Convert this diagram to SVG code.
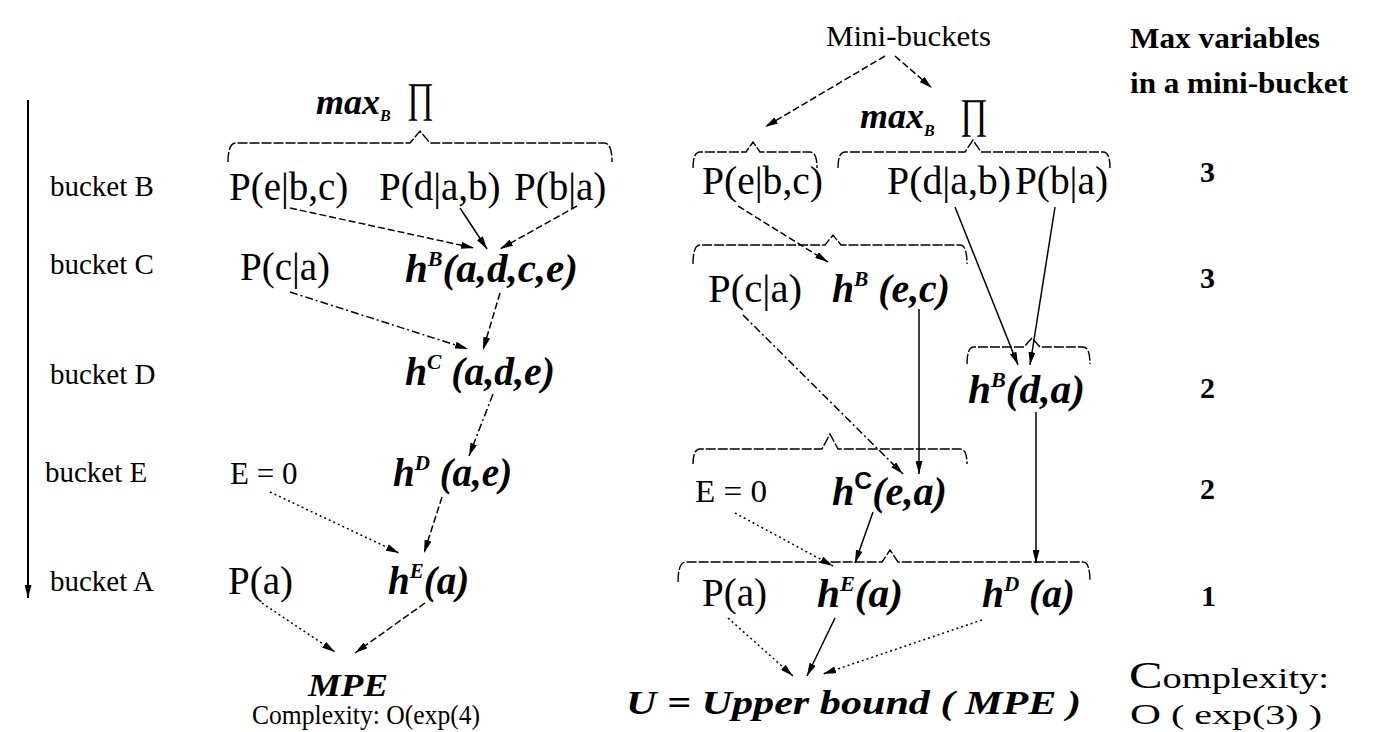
<svg xmlns="http://www.w3.org/2000/svg" width="1381" height="732" viewBox="0 0 1381 732">
<style>
text{font-family:"Liberation Serif","Times New Roman",serif;fill:#000}
.lbl{font-size:29px}
.p{font-size:39px}
.h{font-size:39px;font-weight:bold;font-style:italic}
.bi{font-weight:bold;font-style:italic}
.num{font-size:30px;font-weight:bold}
.hd{font-size:29px;font-weight:bold}
.c{stroke:#000;stroke-width:1.5;fill:none;marker-end:url(#ah)}
.dash{stroke-dasharray:7 3}
.dot{stroke-dasharray:2 3}
.dd{stroke-dasharray:8 3 2 3}
.br{stroke:#000;stroke-width:1.4;fill:none;stroke-dasharray:10 2}
</style>
<defs>
<marker id="ah" markerUnits="userSpaceOnUse" markerWidth="13" markerHeight="7" refX="13" refY="3.5" orient="auto">
<path d="M0,0 L13,3.5 L0,7 z" fill="#000"/>
</marker>
</defs>
<rect width="1381" height="732" fill="#fff"/>

<g id="order-arrow">
<line x1="28" y1="100" x2="28" y2="598" stroke="#000" stroke-width="2" marker-end="url(#ah)"/>
</g>

<g id="bucket-labels">
<text class="lbl" x="50" y="196">bucket B</text>
<text class="lbl" x="50" y="274">bucket C</text>
<text class="lbl" x="50" y="384">bucket D</text>
<text class="lbl" x="45" y="482">bucket  E</text>
<text class="lbl" x="50" y="591">bucket A</text>
</g>

<g id="left-maxB">
<text class="bi" x="316" y="114" font-size="36">max<tspan font-size="16" dy="7">B</tspan></text>
<text x="407" y="112" font-size="42" textLength="27" lengthAdjust="spacingAndGlyphs">∏</text>
<path class="br" d="M228,162 Q228,143 236,143 L410,143 L420,131 L430,143 L604,143 Q612,143 612,162"/>
</g>

<g id="L-PebC"><text class="p" x="229" y="200">P(e|b,c)</text></g>
<g id="L-PdAB"><text class="p" x="379" y="200">P(d|a,b)</text></g>
<g id="L-PbA"><text class="p" x="514" y="200">P(b|a)</text></g>
<g id="L-PcA"><text class="p" x="240" y="280">P(c|a)</text></g>
<g id="L-hB"><text class="h" x="405" y="282" textLength="173" lengthAdjust="spacingAndGlyphs">h<tspan font-size="21" dy="-16">B</tspan><tspan dy="16">(a,d,c,e)</tspan></text></g>
<g id="L-hC"><text class="h" x="405" y="385" textLength="150" lengthAdjust="spacingAndGlyphs">h<tspan font-size="21" dy="-16">C</tspan><tspan dy="16"> (a,d,e)</tspan></text></g>
<g id="L-E0"><text font-size="31" x="230" y="484">E = 0</text></g>
<g id="L-hD"><text class="h" x="393" y="486">h<tspan font-size="21" dy="-16">D</tspan><tspan dy="16"> (a,e)</tspan></text></g>
<g id="L-Pa"><text class="p" x="228" y="594">P(a)</text></g>
<g id="L-hE"><text class="h" x="388" y="594">h<tspan font-size="21" dy="-16">E</tspan><tspan dy="16">(a)</tspan></text></g>
<g id="L-MPE"><text class="bi" x="308" y="696" font-size="32" textLength="80" lengthAdjust="spacingAndGlyphs">MPE</text></g>
<g id="L-complexity"><text font-size="27" x="252" y="724" textLength="228" lengthAdjust="spacingAndGlyphs">Complexity: O(exp(4)</text></g>

<g id="R-minibuckets"><text font-size="30" x="826" y="46" textLength="165" lengthAdjust="spacingAndGlyphs">Mini-buckets</text></g>
<g id="R-maxvars">
<text class="hd" x="1130" y="48" textLength="190" lengthAdjust="spacingAndGlyphs">Max variables</text>
<text class="hd" x="1130" y="93" textLength="218" lengthAdjust="spacingAndGlyphs">in a mini-bucket</text>
</g>
<g id="R-maxB">
<text class="bi" x="860" y="128" font-size="36">max<tspan font-size="16" dy="8">B</tspan></text>
<text x="960" y="128" font-size="42" textLength="28" lengthAdjust="spacingAndGlyphs">∏</text>
</g>
<g id="R-braces">
<path class="br" d="M693,168 Q693,152 700,152 L746,152 L753,142 L760,152 L810,152 Q817,152 817,168"/>
<path class="br" d="M838,168 Q838,152 845,152 L965,152 L973,140 L981,152 L1103,152 Q1110,152 1110,168"/>
<path class="br" d="M693,264 Q693,245 700,245 L825,245 L833,235 L841,245 L960,245 Q967,245 967,264"/>
<path class="br" d="M967,364 Q967,347 974,347 L1024,347 L1032,338 L1040,347 L1083,347 Q1090,347 1090,364"/>
<path class="br" d="M693,464 Q693,449 700,449 L822,449 L830,434 L838,449 L960,449 Q967,449 967,464"/>
<path class="br" d="M678,582 Q678,562 686,562 L882,562 L890,550 L898,562 L1083,562 Q1090,562 1090,582"/>
</g>
<g id="R-PebC"><text class="p" x="702" y="194" textLength="121" lengthAdjust="spacingAndGlyphs">P(e|b,c)</text></g>
<g id="R-PdAB"><text class="p" x="887" y="194" textLength="124" lengthAdjust="spacingAndGlyphs">P(d|a,b)</text></g>
<g id="R-PbA"><text class="p" x="1015" y="194" textLength="93" lengthAdjust="spacingAndGlyphs">P(b|a)</text></g>
<g id="R-PcA"><text class="p" x="708" y="302" textLength="94" lengthAdjust="spacingAndGlyphs">P(c|a)</text></g>
<g id="R-hBec"><text class="h" x="832" y="302" textLength="118" lengthAdjust="spacingAndGlyphs">h<tspan font-size="21" dy="-16">B</tspan><tspan dy="16"> (e,c)</tspan></text></g>
<g id="R-hBda"><text class="h" x="968" y="403" textLength="117" lengthAdjust="spacingAndGlyphs">h<tspan font-size="21" dy="-16">B</tspan><tspan dy="16">(d,a)</tspan></text></g>
<g id="R-E0"><text font-size="31" x="695" y="502" textLength="72" lengthAdjust="spacingAndGlyphs">E = 0</text></g>
<g id="R-hCea"><text class="h" x="832" y="505" textLength="115" lengthAdjust="spacingAndGlyphs">h<tspan font-size="24" dy="-16" font-style="normal" font-family="Liberation Sans,sans-serif">C</tspan><tspan dy="16">(e,a)</tspan></text></g>
<g id="R-Pa"><text class="p" x="702" y="606">P(a)</text></g>
<g id="R-hEa"><text class="h" x="817" y="607" textLength="86" lengthAdjust="spacingAndGlyphs">h<tspan font-size="21" dy="-16">E</tspan><tspan dy="16">(a)</tspan></text></g>
<g id="R-hDa"><text class="h" x="982" y="607" textLength="93" lengthAdjust="spacingAndGlyphs">h<tspan font-size="21" dy="-16">D</tspan><tspan dy="16"> (a)</tspan></text></g>
<g id="R-U"><text class="bi" font-size="33" x="626" y="714" textLength="455" lengthAdjust="spacingAndGlyphs">U = Upper bound ( MPE )</text></g>
<g id="R-counts">
<text class="num" x="1200" y="182">3</text>
<text class="num" x="1200" y="288">3</text>
<text class="num" x="1200" y="398">2</text>
<text class="num" x="1200" y="499">2</text>
<text class="num" x="1201" y="606">1</text>
</g>
<g id="R-complexity">
<text font-size="38" x="1129" y="688" textLength="200" lengthAdjust="spacingAndGlyphs">C<tspan font-size="29">omplexity:</tspan></text>
<text font-size="30" x="1130" y="724" textLength="192" lengthAdjust="spacingAndGlyphs">O<tspan font-size="28"> ( exp(3) )</tspan></text>
</g>

<g id="connectors">
<line class="c dash" x1="290" y1="208" x2="474" y2="248"/>
<line class="c" x1="460" y1="208" x2="487" y2="249"/>
<line class="c dash" x1="577" y1="206" x2="500" y2="249"/>
<line class="c dd" x1="290" y1="292" x2="468" y2="349"/>
<line class="c dash" x1="500" y1="293" x2="483" y2="350"/>
<line class="c dd" x1="493" y1="394" x2="469" y2="456"/>
<line class="c dot" x1="270" y1="492" x2="399" y2="553"/>
<line class="c dash" x1="442" y1="497" x2="424" y2="553"/>
<line class="c dot" x1="262" y1="603" x2="335" y2="652"/>
<line class="c dash" x1="425" y1="603" x2="355" y2="653"/>

<line class="c dash" x1="885" y1="56" x2="765" y2="127"/>
<line class="c dash" x1="895" y1="56" x2="932" y2="88"/>
<line class="c dash" x1="738" y1="206" x2="828" y2="262"/>
<line class="c" x1="955" y1="207" x2="1018" y2="365"/>
<line class="c" x1="1055" y1="207" x2="1030" y2="365"/>
<line class="c dd" x1="743" y1="315" x2="903" y2="474"/>
<line class="c" x1="919" y1="309" x2="919" y2="474"/>
<line class="c" x1="1036" y1="412" x2="1036" y2="563"/>
<line class="c dot" x1="735" y1="513" x2="833" y2="566"/>
<line class="c" x1="873" y1="512" x2="855" y2="563"/>
<line class="c dot" x1="728" y1="618" x2="793" y2="676"/>
<line class="c" x1="835" y1="618" x2="807" y2="676"/>
<line class="c dot" x1="982" y1="620" x2="823" y2="674"/>
</g>
</svg>
